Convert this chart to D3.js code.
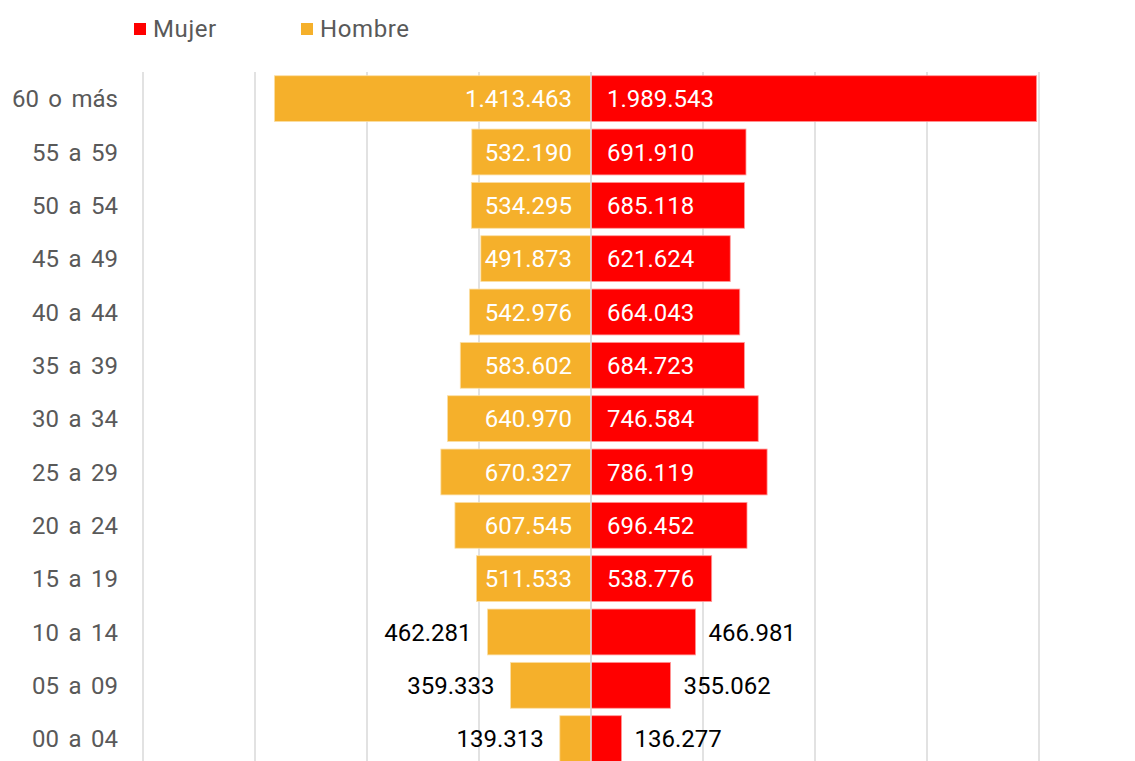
<!DOCTYPE html>
<html><head><meta charset="utf-8">
<script src="https://cdn.jsdelivr.net/npm/d3@7"></script>
<style>html,body{margin:0;padding:0;background:#fff;overflow:hidden}svg{display:block}</style>
</head><body>
<script>
const categories = ["60 o más","55 a 59","50 a 54","45 a 49","40 a 44","35 a 39","30 a 34","25 a 29","20 a 24","15 a 19","10 a 14","05 a 09","00 a 04"];
const mujer  = [1989543,691910,685118,621624,664043,684723,746584,786119,696452,538776,466981,355062,136277];
const hombre = [1413463,532190,534295,491873,542976,583602,640970,670327,607545,511533,462281,359333,139313];
const seriesNames = ["Mujer","Hombre"];
const gridTicks = [-2000000,-1500000,-1000000,-500000,0,500000,1000000,1500000,2000000];

const W = 1135, H = 761;
const colors = {Mujer:"#FF0000", Hombre:"#F5B02B"};
const fontFam = "Roboto, 'Liberation Sans', sans-serif";
const loc = d3.formatLocale({decimal:",", thousands:".", grouping:[3], currency:["",""]});
const fmt = loc.format(",d");

const svg = d3.select("body").append("svg").attr("width",W).attr("height",H);

const x = d3.scaleLinear().domain([-2000000,2000000]).range([143,1039]);
const y = d3.scaleBand().domain(categories).range([72,765.3]).paddingInner(0.14).paddingOuter(0.07);

// gridlines
svg.append("g").selectAll("line").data(gridTicks).join("line")
  .attr("x1",d=>x(d)).attr("x2",d=>x(d)).attr("y1",72).attr("y2",H+5)
  .attr("stroke","#d9d9d9").attr("stroke-width",1.5);

const rows = categories.map((c,i)=>({cat:c, m:mujer[i], h:hombre[i]}));

// bars
svg.append("g").selectAll("rect").data(rows).join("rect")
  .attr("x",d=>x(-d.h)).attr("width",d=>x(0)-x(-d.h))
  .attr("y",d=>y(d.cat)).attr("height",y.bandwidth())
  .attr("fill",colors.Hombre).attr("stroke","#fbe0a8").attr("stroke-width",0.8);
svg.append("g").selectAll("rect").data(rows).join("rect")
  .attr("x",x(0)).attr("width",d=>x(d.m)-x(0))
  .attr("y",d=>y(d.cat)).attr("height",y.bandwidth())
  .attr("fill",colors.Mujer).attr("stroke","#ff9999").attr("stroke-width",0.8);

// center line over bars
svg.append("line").attr("x1",x(0)).attr("x2",x(0)).attr("y1",72).attr("y2",H+5)
  .attr("stroke","#d9d9d9").attr("stroke-width",1.5);

const threshold = 480000;
const fs = 24;
// hombre labels
svg.append("g").selectAll("text").data(rows).join("text")
  .attr("x",d=> d.h>threshold ? x(0)-19 : x(-d.h)-16)
  .attr("y",d=>y(d.cat)+y.bandwidth()/2)
  .attr("dy","0.36em").attr("text-anchor","end")
  .attr("font-family",fontFam).attr("font-size",fs)
  .attr("fill",d=> d.h>threshold ? "#ffffff" : "#000000")
  .text(d=>fmt(d.h));
// mujer labels
svg.append("g").selectAll("text").data(rows).join("text")
  .attr("x",d=> d.m>threshold ? x(0)+16 : x(d.m)+13)
  .attr("y",d=>y(d.cat)+y.bandwidth()/2)
  .attr("dy","0.36em").attr("text-anchor","start")
  .attr("font-family",fontFam).attr("font-size",fs)
  .attr("fill",d=> d.m>threshold ? "#ffffff" : "#000000")
  .text(d=>fmt(d.m));

// category labels
svg.append("g").selectAll("text").data(categories).join("text")
  .attr("x",118).attr("y",d=>y(d)+y.bandwidth()/2)
  .attr("dy","0.36em").attr("text-anchor","end")
  .attr("font-family",fontFam).attr("font-size",fs)
  .attr("word-spacing","3.5px")
  .attr("fill","#595959")
  .text(d=>d);

// legend
const legX = [134, 301];
const leg = svg.append("g").selectAll("g").data(seriesNames).join("g")
  .attr("transform",(d,i)=>`translate(${legX[i]},0)`);
leg.append("rect").attr("x",0).attr("y",23).attr("width",12).attr("height",12)
  .attr("fill",d=>colors[d]);
leg.append("text").attr("x",19).attr("y",28).attr("dy","0.36em")
  .attr("font-family",fontFam).attr("font-size",24).attr("fill","#595959")
  .attr("letter-spacing","0.6px")
  .text(d=>d);
</script>
</body></html>
